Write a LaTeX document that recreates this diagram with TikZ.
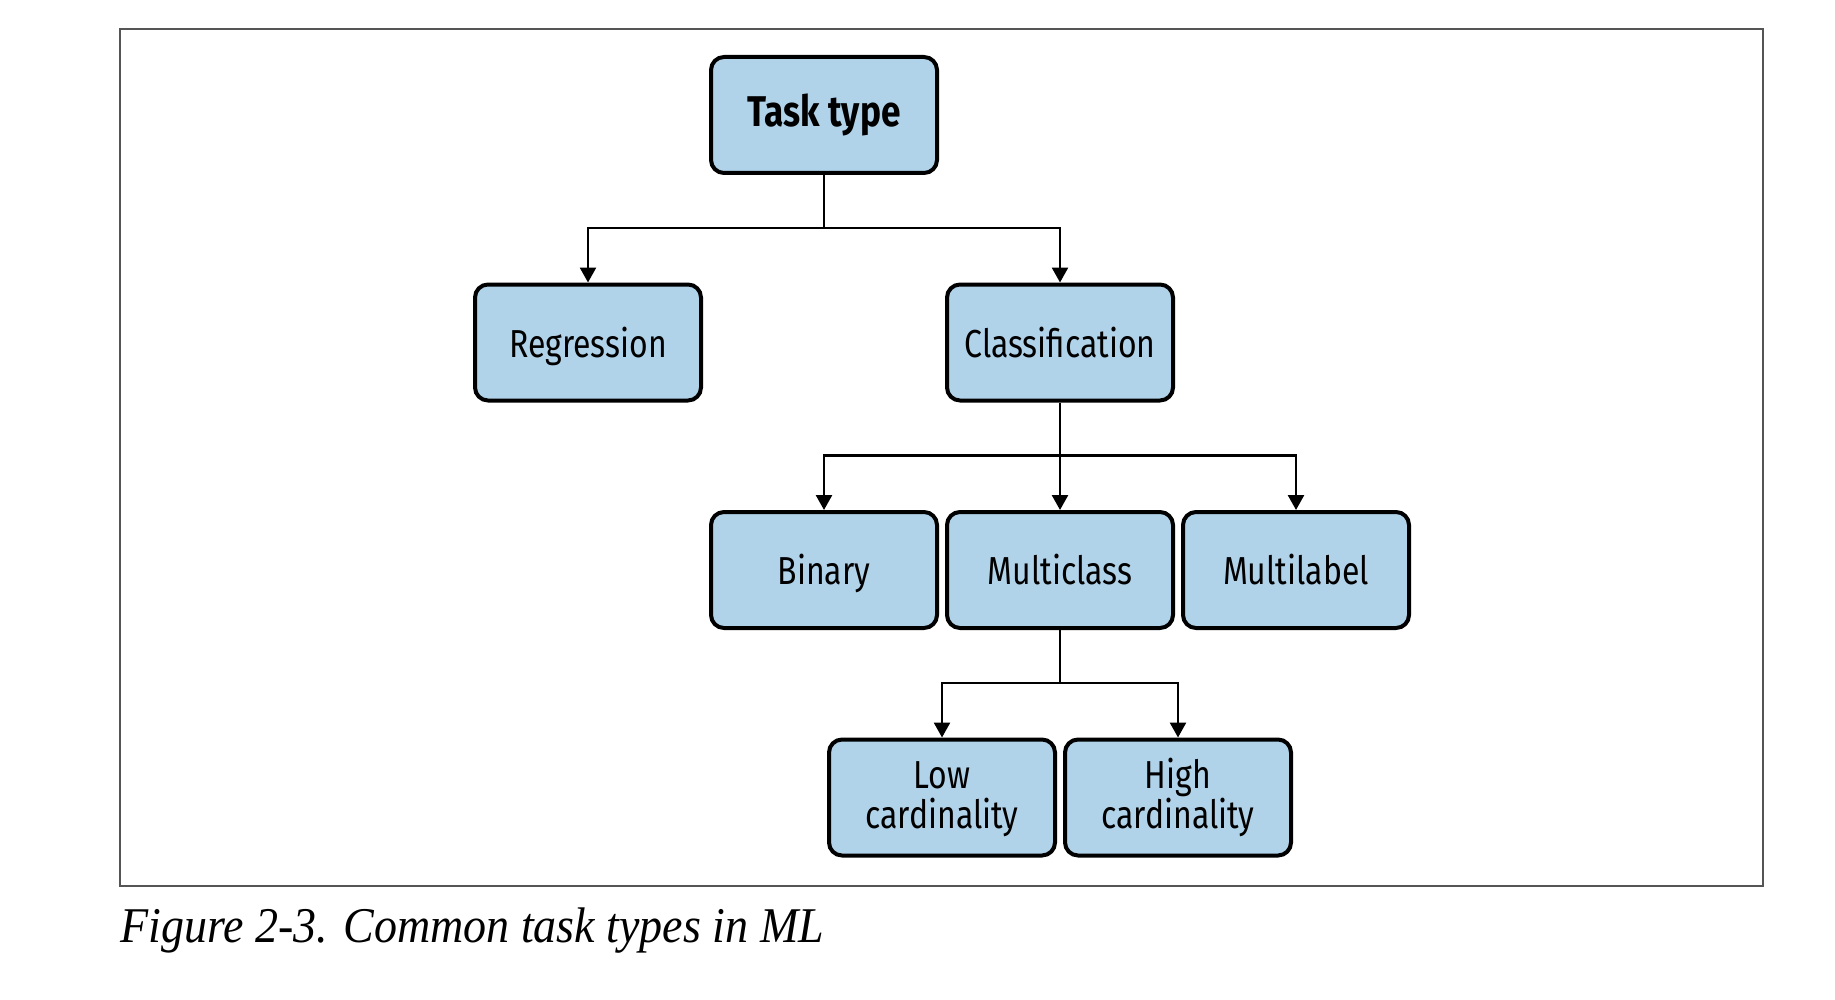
\documentclass[tikz,border=0pt]{standalone}
\usepackage{fontspec}
\usetikzlibrary{arrows.meta}
\newfontfamily\boxfont{Fira Sans}[FakeStretch=0.82]
\newfontfamily\capfont{Liberation Serif}[FakeStretch=0.92]
\definecolor{boxblue}{RGB}{177,211,234}
\definecolor{framegray}{RGB}{85,85,85}
\begin{document}
\begin{tikzpicture}
		[x=0.5pt, y=-0.5pt,
		box/.style={draw=black, line width=2pt, fill=boxblue, rounded corners=6.5pt,
			minimum width=113pt, minimum height=58pt, inner sep=2pt, align=center,
			text height=16pt, text depth=1.5pt,
			font=\boxfont\fontsize{19.5}{20}\selectfont},
		twoline/.style={text height=32pt},
		grow=south, level distance=113.75pt,
		level 1/.style={sibling distance=236pt},
		level 2/.style={sibling distance=118pt},
		level 3/.style={sibling distance=118pt},
		edge from parent/.style={draw, line width=1.3pt, -{Triangle[length=7.5pt,width=8pt]}},
		edge from parent path={(\tikzparentnode.south) -- ++(0,-26.5pt) -| (\tikzchildnode.north)},
		]

		\useasboundingbox (0,0) rectangle (1835,1000);
		\draw[framegray, line width=0.8pt] (120,29) rectangle (1763,886);

		\node[box, text height=13.5pt, font=\boxfont\bfseries\fontsize{21.5}{22}\selectfont] (task) at (824,115) {Task type}
			child{
				node[box] (regression) {Regression}}
			child{
				node[box] (classification) {Classification}
					child{
						node[box] (binary) {Binary}}
					child{
						node[box] (multiclass) {Multiclass}
							child{
								node[box, twoline] (low) {Low\\cardinality}}
							child{
								node[box, twoline] (high) {High\\cardinality}}}
					child{
						node[box] (multilabel) {Multilabel}}}
		% Baum ohne Leerzeilen
		;

		\node[anchor=base west, inner sep=0pt, font=\capfont\itshape\fontsize{25}{30}\selectfont] (caption) at (120,942) {Figure 2-3. Common task types in ML};
	\end{tikzpicture}
\end{document}
